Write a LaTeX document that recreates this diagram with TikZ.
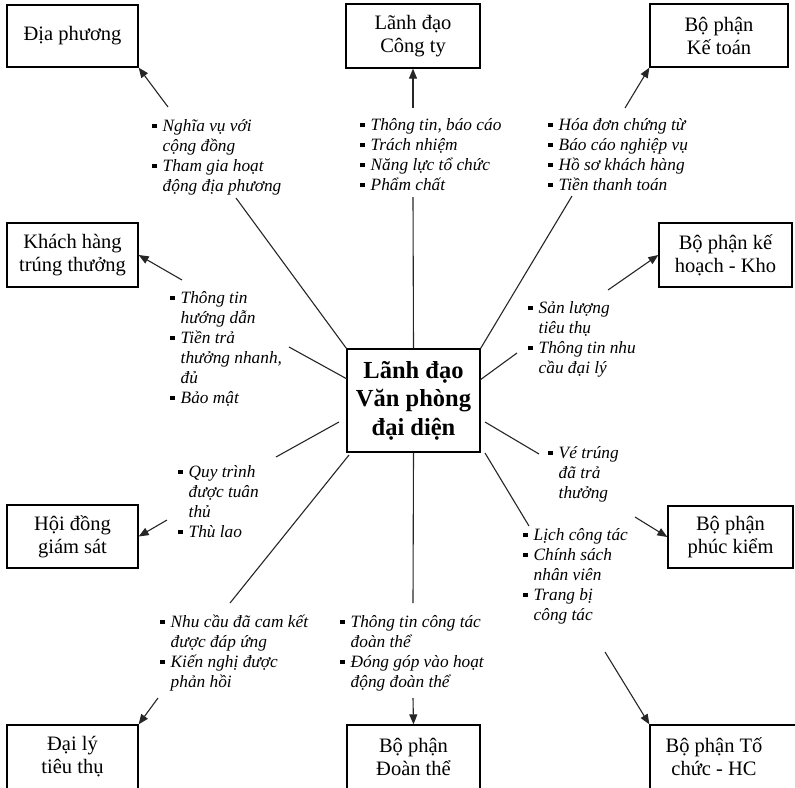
\documentclass[tikz,border=0pt]{standalone}
\usepackage{fontspec}
\setmainfont{Liberation Serif}
\usetikzlibrary{arrows.meta}
\newcommand{\boxfont}{\fontsize{20.5}{23}\selectfont}
\newcommand{\lblfont}{\fontsize{17.3}{20}\selectfont\itshape}
\newcommand{\cenfont}{\fontsize{24.5}{28.5}\selectfont\bfseries}
\newcommand{\bq}{\raisebox{3pt}{\rule{4.5pt}{4.5pt}}}
\newenvironment{bl}{\begin{tabular}{@{}l@{\hspace{6pt}}l@{}}}{\end{tabular}}
\begin{document}
\begin{tikzpicture}[x=1pt,y=-1pt,
  box/.style={draw, line width=1.3pt, rectangle, inner sep=0pt, align=center, font=\boxfont},
  lbl/.style={anchor=north west, inner sep=0pt, font=\lblfont},
  ln/.style={line width=1.1pt, draw=black!85},
  arr/.style={ln, -{Triangle[length=10pt,width=8pt]}}]
\useasboundingbox (0,0) rectangle (795,787);
\clip (0,0) rectangle (795,787);

% boxes
\node[box, minimum width=133, minimum height=103, font=\cenfont] (c) at (413.5,400.5) {Lãnh đạo\\Văn phòng\\đại diện};
\node[box, minimum width=131, minimum height=62] (dp) at (72.5,36) {Địa phương};
\node[box, minimum width=134, minimum height=64] (ldct) at (413,36) {Lãnh đạo\\Công ty};
\node[box, minimum width=138, minimum height=63] (kt) at (719,35.5) {Bộ phận\\Kế toán};
\node[box, minimum width=131, minimum height=64] (kh) at (72.5,255) {Khách hàng\\trúng thưởng};
\node[box, minimum width=133, minimum height=64] (khk) at (725.5,255) {Bộ phận kế\\hoạch - Kho};
\node[box, minimum width=131, minimum height=63] (hd) at (72.5,536.5) {Hội đồng\\giám sát};
\node[box, minimum width=125, minimum height=62] (pk) at (730.5,537) {Bộ phận\\phúc kiểm};
\node[box, minimum width=131, minimum height=64] (dl) at (72.5,757) {Đại lý\\tiêu thụ};
\node[box, minimum width=133, minimum height=64] (dt) at (413.5,757) {Bộ phận\\Đoàn thể};
\node[box, minimum width=180, minimum height=64] (tc) at (740,757) {};
\node[inner sep=0pt, align=center, font=\boxfont] (tctext) at (714,757) {Bộ phận Tố\\chức - HC};

% labels
\node[lbl] (l1) at (152,117) {\begin{bl}\bq & Nghĩa vụ với\\ & cộng đồng\\ \bq & Tham gia hoạt\\ & động địa phương\end{bl}};
\node[lbl] (l2) at (360,116) {\begin{bl}\bq & Thông tin, báo cáo\\ \bq & Trách nhiệm\\ \bq & Năng lực tổ chức\\ \bq & Phẩm chất\end{bl}};
\node[lbl] (l3) at (548,116) {\begin{bl}\bq & Hóa đơn chứng từ\\ \bq & Báo cáo nghiệp vụ\\ \bq & Hồ sơ khách hàng\\ \bq & Tiền thanh toán\end{bl}};
\node[lbl] (l4) at (170,289) {\begin{bl}\bq & Thông tin\\ & hướng dẫn\\ \bq & Tiền trả\\ & thưởng nhanh,\\ & đủ\\ \bq & Bảo mật\end{bl}};
\node[lbl] (l5) at (528,299) {\begin{bl}\bq & Sản lượng\\ & tiêu thụ\\ \bq & Thông tin nhu\\ & cầu đại lý\end{bl}};
\node[lbl] (l6) at (178,463) {\begin{bl}\bq & Quy trình\\ & được tuân\\ & thủ\\ \bq & Thù lao\end{bl}};
\node[lbl] (l7) at (548,444) {\begin{bl}\bq & Vé trúng\\ & đã trả\\ & thưởng\end{bl}};
\node[lbl] (l8) at (523,526) {\begin{bl}\bq & Lịch công tác\\ \bq & Chính sách\\ & nhân viên\\ \bq & Trang bị\\ & công tác\end{bl}};
\node[lbl] (l9) at (160,613) {\begin{bl}\bq & Nhu cầu đã cam kết\\ & được đáp ứng\\ \bq & Kiến nghị được\\ & phản hồi\end{bl}};
\node[lbl] (l10) at (340,613) {\begin{bl}\bq & Thông tin công tác\\ & đoàn thể\\ \bq & Đóng góp vào hoạt\\ & động đoàn thể\end{bl}};

% free ends
\coordinate (s1) at (236,198);
\coordinate (s2) at (413,197);
\coordinate (s3) at (572,196);
\coordinate (s4) at (289,347);
\coordinate (e4) at (347,379);
\coordinate (s5) at (517,353);
\coordinate (e5) at (480,380);
\coordinate (s6) at (276,457);
\coordinate (e6) at (339,422);
\coordinate (b7) at (485,422);
\coordinate (s7) at (539,454);
\coordinate (b8) at (349,455);
\coordinate (s8) at (230,603);
\coordinate (s9) at (413,603);
\coordinate (b10) at (485,453);
\coordinate (s10) at (529,526);

\coordinate (a1) at (168,107);
\coordinate (a2) at (413,108);
\coordinate (a3) at (625,108);
\coordinate (a4) at (182,280);
\coordinate (a5) at (608,290);
\coordinate (a6) at (167,520);
\coordinate (a7) at (635,517);
\coordinate (a8) at (158,698);
\coordinate (a9) at (413,698);
\coordinate (a10) at (605,652);

% center lines
\draw[ln] (c.north west) -- (s1);
\draw[ln] (c.north) -- (s2);
\draw[ln] (c.north east) -- (s3);
\draw[ln] (e4) -- (s4);
\draw[ln] (e5) -- (s5);
\draw[ln] (e6) -- (s6);
\draw[ln] (b7) -- (s7);
\draw[ln] (b8) -- (s8);
\draw[ln] (c.south) -- (s9);
\draw[ln] (b10) -- (s10);

% arrows
\draw[arr] (a1) -- (dp.south east);
\draw[arr] (a2) -- (ldct.south);
\draw[arr] (a3) -- (kt.south west);
\draw[arr] (a4) -- (kh.east);
\draw[arr] (a5) -- (khk.west);
\draw[arr] (a6) -- (hd.east);
\draw[arr] (a7) -- (pk.west);
\draw[arr] (a8) -- (dl.north east);
\draw[arr] (a9) -- (dt.north);
\draw[arr] (a10) -- (tc.north west);
\end{tikzpicture}
\end{document}
